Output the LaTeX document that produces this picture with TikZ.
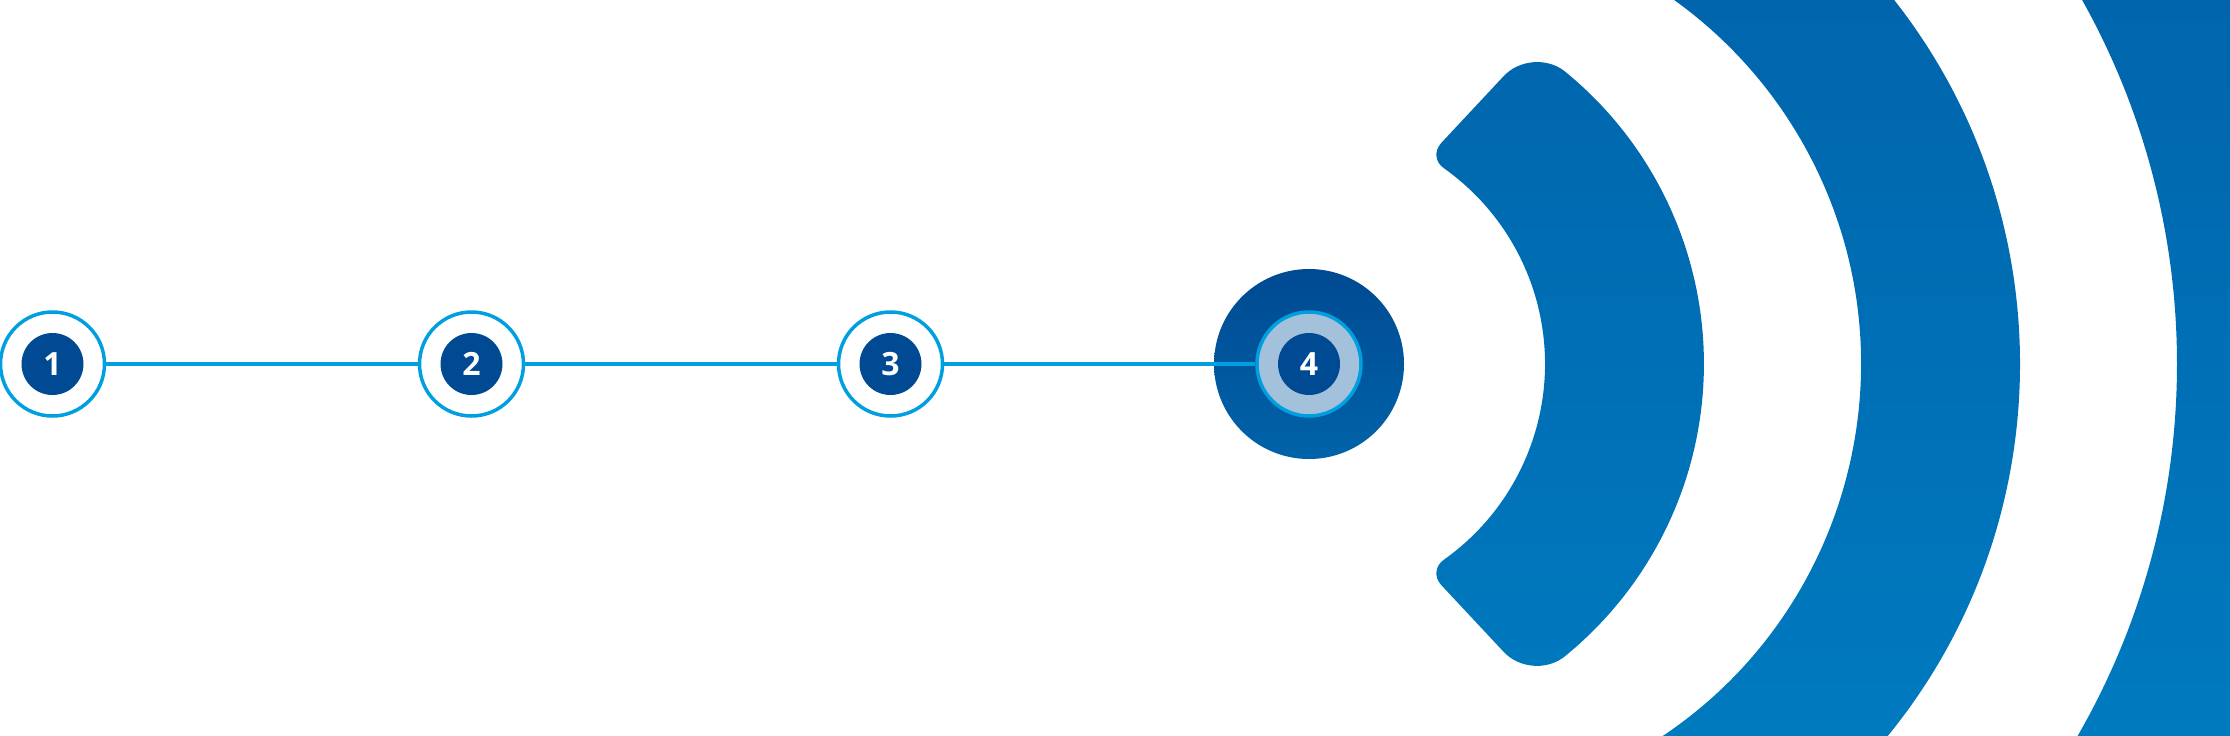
\documentclass[tikz,border=0pt]{standalone}
\usepackage{fontspec}
\setsansfont{Open Sans}
\definecolor{ringcyan}{RGB}{0,159,223}
\definecolor{stepdark}{RGB}{0,74,148}
\definecolor{ringlight}{RGB}{163,193,218}
\definecolor{arctop}{RGB}{0,101,172}
\definecolor{arcbot}{RGB}{0,122,191}
\definecolor{halotop}{RGB}{0,74,146}
\definecolor{halobot}{RGB}{0,99,169}
\begin{document}
\begin{tikzpicture}[x=1pt,y=-1pt,
  ring/.style={circle, draw=ringcyan, line width=3.5pt, fill=white, minimum size=104pt, inner sep=0pt},
  numdot/.style={circle, fill=stepdark, minimum size=62pt, inner sep=0pt, text=white,
    font=\sffamily\bfseries\fontsize{32}{32}\selectfont},
  link/.style={draw=ringcyan, line width=4pt},
  halo/.style={circle, minimum size=190pt, inner sep=0pt, top color=halotop, bottom color=halobot}]
\useasboundingbox (0,0) rectangle (2230,736);
\clip (0,0) rectangle (2230,736);
% signal arcs
\begin{scope}
\clip
  (1563.3,70.2) arc[start angle=-51.17, end angle=51.17, radius=377]
  .. controls (1545.5,670.6) and (1518.7,668.0) .. (1503.7,651.9)
  -- (1441.2,585.0)
  .. controls (1433.7,577.0) and (1435.1,565.5) .. (1444.3,559.4)
  arc[start angle=54.53, end angle=-54.53, radius=240]
  .. controls (1435.1,162.5) and (1433.7,151.0) .. (1441.2,143.0)
  -- (1503.7,76.1)
  .. controls (1518.7,60.0) and (1545.5,57.4) .. (1563.3,70.2) -- cycle
  (1847.5,-52.5) arc[start angle=-45, end angle=45, radius=589]
  -- (1637,752) arc[start angle=60, end angle=-60, radius=448] -- cycle
  (2079.3,-265.3) arc[start angle=-45, end angle=45, radius=890]
  -- (2002.7,842.9) arc[start angle=40, end angle=-40, radius=745] -- cycle;
\shade[top color=arctop, bottom color=arcbot] (0,0) rectangle (2230,736);
\end{scope}
% steps
\node[halo] (h4) at (1309,364) {};
\node[ring] (r1) at (52.5,364) {};
\node[ring] (r2) at (471.5,364) {};
\node[ring] (r3) at (890.5,364) {};
\node[ring, fill=ringlight] (r4) at (1309,364) {};
\draw[link] (r1) -- (r2);
\draw[link] (r2) -- (r3);
\draw[link] (r3) -- (r4);
\node[numdot] (n1) at (r1) {1};
\node[numdot] (n2) at (r2) {2};
\node[numdot] (n3) at (r3) {3};
\node[numdot] (n4) at (r4) {4};
\end{tikzpicture}
\end{document}
